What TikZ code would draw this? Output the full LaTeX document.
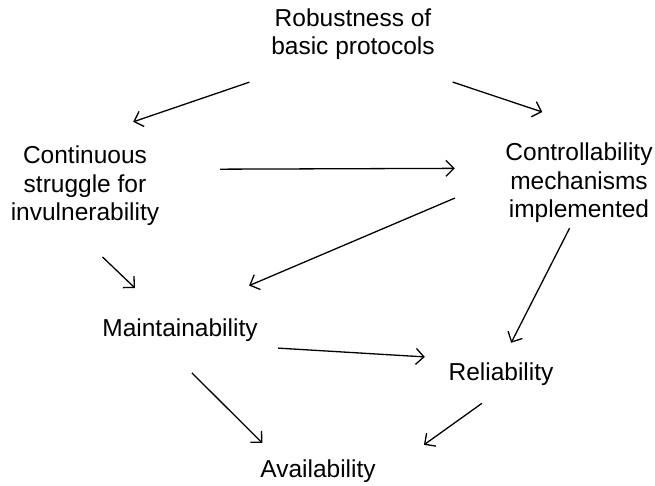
\documentclass[tikz,border=0pt]{standalone}
\usepackage{fontspec}
\setmainfont{Liberation Sans}
\usetikzlibrary{arrows.meta}

\tikzset{
	lbl/.style={inner sep=0, align=center, font=\fontsize{24.5}{28.5}\selectfont},
	arr/.style={-{Straight Barb[length=8pt,width=16pt]}, line width=1.3pt}
}

\begin{document}
\begin{tikzpicture}[x=1pt, y=-1pt]
	\useasboundingbox (0, 0) rectangle (655, 486);

	\node (rob) [lbl, minimum width=180, minimum height=56] at (353, 34) {Robustness of\\basic protocols};
	\node (cont) [lbl, minimum width=156, minimum height=86] at (85, 186) {Continuous\\struggle for\\invulnerability};
	\node (ctrl) [lbl, minimum width=152, minimum height=86] at (579, 183) {Controllability\\mechanisms\\implemented};
	\node (maint) [lbl, minimum width=160, minimum height=34] at (180, 330) {Maintainability};
	\node (rel) [lbl, minimum width=110, minimum height=34] at (501, 374) {Reliability};
	\node (avail) [lbl, minimum width=126, minimum height=34] at (318, 471) {Availability};

	\path[arr]
	(rob.212.2) edge[shorten <=61.8pt, shorten >=64.9pt] (cont.107.3)
	(rob.325.5) edge[shorten <=62.6pt, shorten >=87.6pt] (ctrl.43)
	(cont.12.3) edge[shorten <=57pt, shorten >=48pt] (ctrl.169.6)
	(ctrl.176.8) edge[shorten <=52.1pt, shorten >=69.4pt] (maint.73.3)
	(ctrl.259.5) edge[shorten <=2.3pt, shorten >=15.7pt] (rel.80.6)
	(cont.255.8) edge[shorten <=40.2pt, shorten >=35.9pt] (maint.138.5)
	(maint.348.1) edge[shorten <=18pt, shorten >=21pt] (rel.164.1)
	(maint.231.3) edge[shorten <=36.5pt, shorten >=15.4pt] (avail.159.8)
	(rel.263.3) edge[shorten <=20.8pt, shorten >=52.6pt] (avail.356.9);

\end{tikzpicture}
\end{document}
